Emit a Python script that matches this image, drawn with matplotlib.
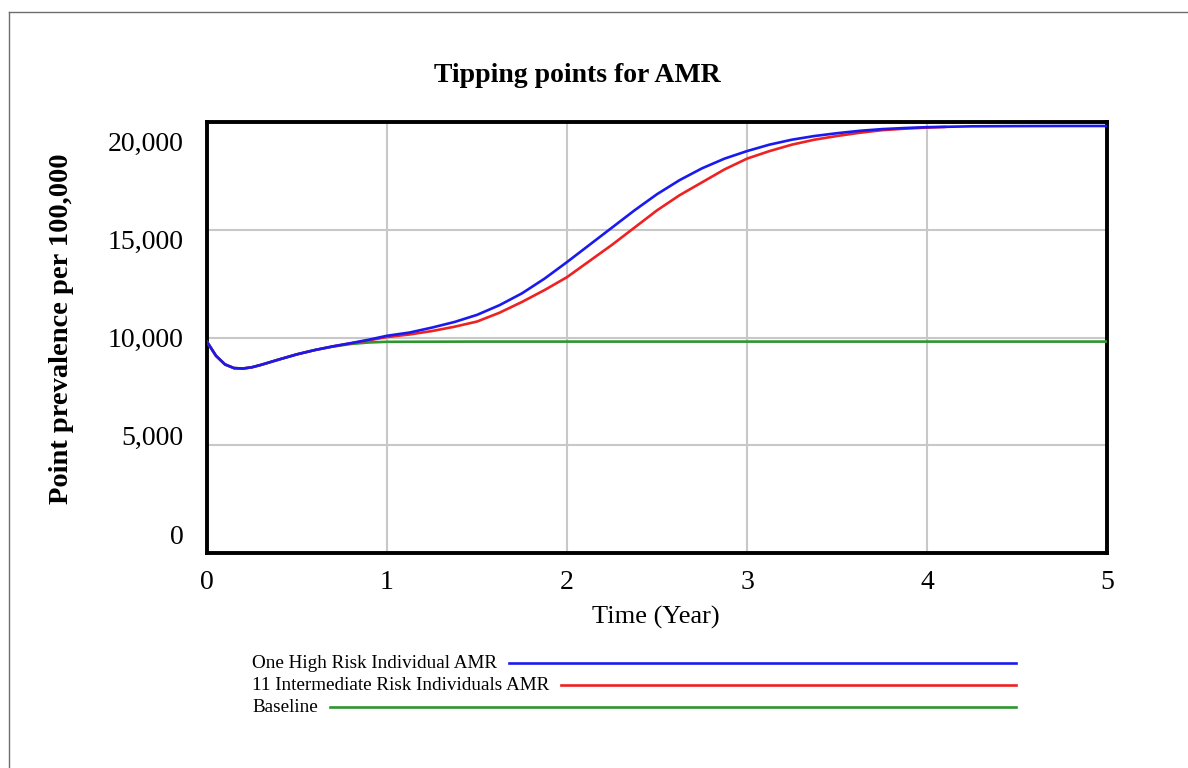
import matplotlib
matplotlib.use('Agg')
import matplotlib.pyplot as plt
import matplotlib.transforms as mtransforms
from matplotlib.lines import Line2D

# ------------------------------------------------------------------ #
#                     data                    #
# ------------------------------------------------------------------ #

time_blue = [0, 0.05, 0.1, 0.15, 0.2, 0.25, 0.3, 0.4, 0.5, 0.6, 0.7, 0.8, 0.9, 1.0,
             1.125, 1.25, 1.375, 1.5, 1.625, 1.75, 1.875, 2.0, 2.125, 2.25, 2.375, 2.5,
             2.625, 2.75, 2.875, 3.0, 3.125, 3.25, 3.375, 3.5, 3.625, 3.75, 3.875, 4.0,
             4.25, 4.5, 4.75, 5.0]
high_risk = [9800, 9150, 8750, 8580, 8560, 8620, 8730, 8980, 9220, 9420, 9590, 9740, 9900, 10080,
             10230, 10460, 10720, 11050, 11500, 12050, 12730, 13500, 14300, 15100, 15900, 16650,
             17300, 17850, 18300, 18650, 18950, 19180, 19350, 19480, 19590, 19670, 19720, 19760,
             19800, 19810, 19815, 19815]

time_red = [0, 0.05, 0.1, 0.15, 0.2, 0.25, 0.3, 0.4, 0.5, 0.6, 0.7, 0.8, 0.9, 1.0,
            1.125, 1.25, 1.375, 1.5, 1.625, 1.75, 1.875, 2.0, 2.125, 2.25, 2.375, 2.5,
            2.625, 2.75, 2.875, 3.0, 3.125, 3.25, 3.375, 3.5, 3.625, 3.75, 3.875, 4.0, 4.1]
intermediate_risk = [9800, 9150, 8750, 8580, 8560, 8620, 8730, 8980, 9220, 9420, 9590, 9730, 9870, 10020,
                     10140, 10300, 10500, 10740, 11150, 11650, 12200, 12800, 13550, 14300, 15100, 15900,
                     16600, 17200, 17800, 18300, 18650, 18950, 19180, 19350, 19500, 19620, 19690, 19740, 19770]

time_green = [0, 0.05, 0.1, 0.15, 0.2, 0.25, 0.3, 0.4, 0.5, 0.6, 0.7, 0.8, 0.9, 1.0,
              1.5, 2.0, 3.0, 4.0, 5.0]
baseline = [9800, 9150, 8750, 8580, 8560, 8620, 8730, 8980, 9220, 9420, 9580, 9700, 9770, 9800,
            9810, 9810, 9810, 9810, 9810]

series_names = ['One High Risk Individual AMR', '11 Intermediate Risk Individuals AMR', 'Baseline']
series_colors = ['#1a1aee', '#ee2222', '#2e962e']

yticks = [0, 5000, 10000, 15000, 20000]
xticks = [0, 1, 2, 3, 4, 5]

# ------------------------------------------------------------------ #
#                               plot                                 #
# ------------------------------------------------------------------ #

plt.rcParams['font.family'] = ['Liberation Serif', 'DejaVu Serif']

W, H = 1188, 768
fig = plt.figure(figsize=(W / 100, H / 100), dpi=100)
fig.patch.set_facecolor('white')

# thin grey frame on top and left edges (screenshot crop)
fig.add_artist(Line2D([9 / W, 1], [1 - 12 / H, 1 - 12 / H], color='#6e6e6e', lw=1.0))
fig.add_artist(Line2D([9 / W, 9 / W], [0, 1 - 12 / H], color='#6e6e6e', lw=1.0))

ax = fig.add_axes([207 / W, 1 - 553 / H, 900 / W, 431 / H])

ax.plot(time_green, baseline, color=series_colors[2], lw=1.9, zorder=3)
ax.plot(time_red, intermediate_risk, color=series_colors[1], lw=1.9, zorder=4)
ax.plot(time_blue, high_risk, color=series_colors[0], lw=1.9, zorder=5)

ax.set_xlim(0, 5)
ax.set_ylim(0, 20000)
ax.set_xticks(xticks)
ax.set_yticks(yticks)
ax.set_xticklabels([str(x) for x in xticks], fontsize=20)
ax.set_yticklabels(['{:,}'.format(y) for y in yticks], fontsize=20)
ax.tick_params(axis='both', length=0)
ax.tick_params(axis='y', pad=17)
ax.tick_params(axis='x', pad=12)
ax.grid(True, color='#c8c8c8', lw=1.5, zorder=1)
ax.set_axisbelow(True)
for sp in ax.spines.values():
    sp.set_linewidth(2.8)
    sp.set_color('black')

# y labels in the original are spaced a bit tighter than the gridlines
for lab, v in zip(ax.get_yticklabels(), yticks):
    dy = -(v - 10000) / 10000.0 * 19 * 0.72
    lab.set_transform(lab.get_transform() + mtransforms.ScaledTranslation(0, dy / 72.0, fig.dpi_scale_trans))

fig.text(577 / W, 1 - 75 / H, 'Tipping points for AMR', fontsize=20, fontweight='bold',
         ha='center', va='center')
fig.text(62 / W, 1 - 329 / H, 'Point prevalence per 100,000', fontsize=20.5, fontweight='bold',
         rotation=90, ha='center', va='center')
fig.text(656 / W, 1 - 617 / H, 'Time (Year)', fontsize=19, ha='center', va='center')

# legend: label text followed by a line running out to a common end
renderer = fig.canvas.get_renderer()
legend_y = [663, 685, 707]
for name, col, ly in zip(series_names, series_colors, legend_y):
    t = fig.text(252 / W, 1 - ly / H, name, fontsize=13.8, ha='left', va='center')
    bb = t.get_window_extent(renderer=renderer)
    x0 = (bb.x1 + 12) / W
    fig.add_artist(Line2D([x0, 1016 / W], [1 - ly / H, 1 - ly / H], color=col, lw=1.9))

plt.savefig('out.png', dpi=100)
plt.close()
